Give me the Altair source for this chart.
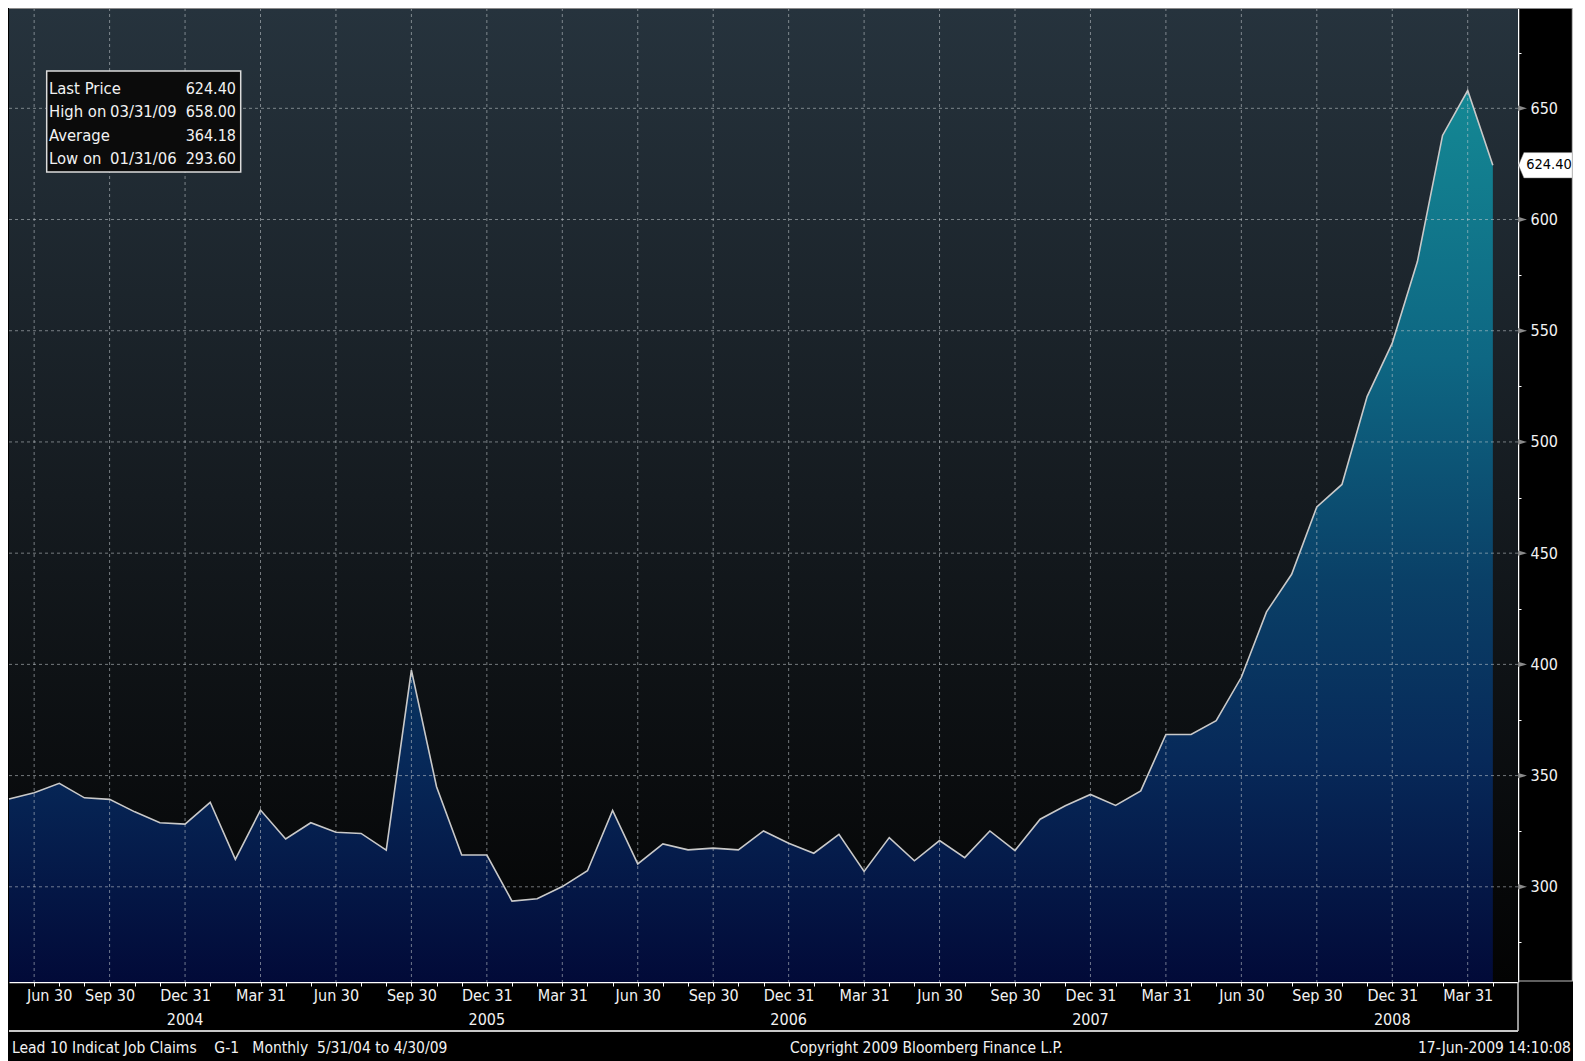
import altair as alt
import pandas as pd

# ---------------- data ----------------
months = [d.strftime("%Y-%m-%d") for d in pd.date_range("2004-05-31", periods=60, freq="ME")]
values = [
    339.5, 342.3, 346.5, 340.0, 339.3, 333.7, 328.8, 328.2,            # May-Dec 2004
    338.0, 312.3, 334.5, 321.5, 328.8, 324.5, 324.0, 316.5, 397.4, 345.0, 314.3, 314.3,  # 2005
    293.6, 294.6, 300.1, 307.2, 334.3, 310.3, 319.3, 316.6, 317.4, 316.6, 325.1, 319.6,  # 2006
    315.1, 323.6, 306.9, 322.1, 311.7, 320.8, 313.1, 325.1, 316.3, 330.4, 336.4, 341.5,  # 2007
    336.6, 343.1, 368.5, 368.5, 374.7, 394.2, 423.6, 440.5, 470.8, 480.9, 520.4, 544.4,  # 2008
    581.1, 637.8, 658.0, 624.4,                                        # Jan-Apr 2009
]
quarter_names = {3: "Mar 31", 6: "Jun 30", 9: "Sep 30", 12: "Dec 31"}
year_labels = ["2004", "2005", "2006", "2007", "2008"]
y_major = [300, 350, 400, 450, 500, 550, 600, 650]
y_ticks = [275, 300, 325, 350, 375, 400, 425, 450, 475, 500, 525, 550, 575, 600, 625, 650, 675]
legend_labels = ["Last Price", "High on", "Average", "Low on"]
legend_dates = ["", "03/31/09", "", "01/31/06"]
legend_values = ["624.40", "658.00", "364.18", "293.60"]
footer_left = "Lead 10 Indicat Job Claims\u00a0\u00a0\u00a0\u00a0G-1\u00a0\u00a0\u00a0Monthly\u00a0\u00a05/31/04 to 4/30/09"
footer_center = "Copyright 2009 Bloomberg Finance L.P."
footer_right = "17-Jun-2009 14:10:08"

# ---------------- tables ----------------
dts = pd.to_datetime(months)
df = pd.DataFrame({"idx": range(len(values)), "date": months, "value": values})
qdf = pd.DataFrame({"idx": [i for i, d in enumerate(dts) if d.month in quarter_names],
                    "label": [quarter_names[d.month] for d in dts if d.month in quarter_names]})
ydf = pd.DataFrame({"idx": [i for i, d in enumerate(dts) if d.month == 12 and str(d.year) in year_labels],
                    "label": [str(d.year) for d in dts if d.month == 12 and str(d.year) in year_labels]})
gdf = pd.DataFrame({"v": y_major})
last_df = pd.DataFrame({"v": [values[-1]], "t": [f"{values[-1]:.2f}"]})
one = pd.DataFrame({"a": [0]})

label_per_idx = ["" for _ in range(61)]
for i, lab in zip(qdf["idx"], qdf["label"]):
    label_per_idx[i] = lab
label_expr = "[" + ",".join("'%s'" % t for t in label_per_idx) + "][datum.value] || ''"
first_q = int(qdf["idx"].iloc[0])

# ---------------- style ----------------
W, H = 1509, 974
FONT = "DejaVu Sans Condensed, Liberation Sans Narrow, Liberation Sans, sans-serif"
TXT = "#f2f2f2"
GRID = "#c8cdd2"

xs = alt.Scale(domain=[0, 60], nice=False, zero=False)
ys = alt.Scale(domain=[257.2, 695.1], nice=False, zero=False)

xaxis = alt.Axis(values=list(range(1, 60)), labelExpr=label_expr, grid=False, title=None,
                 domainColor="#ffffff", domainWidth=1.5, tickColor="#ffffff", tickSize=4,
                 labelColor=TXT, labelFont=FONT, labelFontSize=16, labelPadding=1,
                 labelOffset={"condition": {"test": f"datum.value == {first_q}", "value": 15}, "value": 0},
                 labelOverlap=False, labelFlush=False, labelBound=False)
yaxis = alt.Axis(orient="right", values=y_ticks, grid=False, title=None,
                 labelExpr="datum.value % 50 == 0 ? datum.label : ''",
                 domainColor="#ffffff", domainWidth=1.5, tickColor="#ffffff", tickSize=3,
                 labelColor=TXT, labelFont=FONT, labelFontSize=16, labelPadding=9,
                 labelOverlap=False, labelFlush=False, labelBound=False)


def X(field):
    return alt.X(field, scale=xs, axis=xaxis)


def Y(field):
    return alt.Y(field, scale=ys, axis=yaxis)


bg_grad = alt.LinearGradient(
    gradient="linear", x1=0, x2=0, y1=0, y2=1,
    stops=[alt.GradientStop(color="#26333d", offset=0),
           alt.GradientStop(color="#151b20", offset=0.5),
           alt.GradientStop(color="#030303", offset=1)])
area_grad = alt.LinearGradient(
    gradient="linear", x1=0, x2=0, y1=0, y2=1,
    stops=[alt.GradientStop(color="#148894", offset=0),
           alt.GradientStop(color="#0e6783", offset=0.3),
           alt.GradientStop(color="#0a4067", offset=0.55),
           alt.GradientStop(color="#072959", offset=0.75),
           alt.GradientStop(color="#020a38", offset=1)])

bg = alt.Chart(one).mark_rect(fill=bg_grad).encode(
    x=alt.value(0), x2=alt.value(W), y=alt.value(0), y2=alt.value(H))

area = alt.Chart(df).mark_area(fill=area_grad, stroke=None).encode(
    x=X("idx:Q"), y=Y("value:Q"), y2=alt.datum(257.2))
line = alt.Chart(df).mark_line(color="#c9c9c9", strokeWidth=1.6).encode(
    x=X("idx:Q"), y=Y("value:Q"))

vgrid = alt.Chart(qdf).mark_rule(color=GRID, strokeDash=[3, 3], strokeWidth=1, opacity=0.55).encode(
    x=X("idx:Q"))
hgrid = alt.Chart(gdf).mark_rule(color=GRID, strokeDash=[3, 3], strokeWidth=1, opacity=0.55).encode(
    y=Y("v:Q"))

tri = alt.Chart(gdf).mark_point(shape="M-1,-0.6L1,0L-1,0.6Z", filled=True, fill="#8a8a8a",
                                size=81, opacity=1, strokeWidth=0).encode(
    y=Y("v:Q"), x=alt.value(W + 4.5))

tag = alt.Chart(last_df).mark_point(shape="M-1,0L-0.8,-0.47L1,-0.47L1,0.47L-0.8,0.47Z",
                                    filled=True, fill="#ffffff", size=54 * 54, opacity=1,
                                    stroke="#777777", strokeWidth=0.5).encode(
    y=Y("v:Q"), x=alt.value(W + 27.5))
tag_text = alt.Chart(last_df).mark_text(font=FONT, fontSize=14.5, color="#000000",
                                        align="center", baseline="middle").encode(
    y=Y("v:Q"), x=alt.value(W + 31), text="t:N")

leg_box = alt.Chart(one).mark_rect(fill="#0b0b0b", stroke="#dcdcdc", strokeWidth=1.5).encode(
    x=alt.value(37.7), x2=alt.value(231.7), y=alt.value(63), y2=alt.value(164))
LH = 23.4
legend_layers = []
for r in range(len(legend_labels)):
    yy = 86 + LH * r
    for txt, xx, al, fs in ((legend_labels[r], 40, "left", 16.5),
                            (legend_dates[r], 101, "left", 16.5),
                            (legend_values[r], 227, "right", 16)):
        if txt:
            legend_layers.append(
                alt.Chart(one).mark_text(font=FONT, fontSize=fs, color=TXT, align=al,
                                         baseline="alphabetic").encode(
                    x=alt.value(xx), y=alt.value(yy), text=alt.value(txt)))

years = alt.Chart(ydf).mark_text(font=FONT, fontSize=16, color=TXT, align="center",
                                 baseline="middle").encode(
    x=X("idx:Q"), y=alt.value(H + 38), text="label:N")

FY = 1040
f1 = alt.Chart(one).mark_text(font=FONT, fontSize=15.5, color=TXT, align="left", baseline="middle").encode(
    x=alt.value(3), y=alt.value(FY), text=alt.value(footer_left))
f2 = alt.Chart(one).mark_text(font=FONT, fontSize=15.5, color=TXT, align="center", baseline="middle").encode(
    x=alt.value(917.5), y=alt.value(FY), text=alt.value(footer_center))
f3 = alt.Chart(one).mark_text(font=FONT, fontSize=15.5, color=TXT, align="right", baseline="middle").encode(
    x=alt.value(1562), y=alt.value(FY), text=alt.value(footer_right))

top_border = alt.Chart(one).mark_rule(color="#8a8a8a", strokeWidth=1).encode(
    x=alt.value(0), x2=alt.value(1564), y=alt.value(0.5))
right_border = alt.Chart(one).mark_rule(color="#bdbdbd", strokeWidth=1.2).encode(
    x=alt.value(1563.4), y=alt.value(0), y2=alt.value(973))
right_bottom = alt.Chart(one).mark_rule(color="#bdbdbd", strokeWidth=1.2).encode(
    x=alt.value(W), x2=alt.value(1564), y=alt.value(973))
band_bottom = alt.Chart(one).mark_rule(color="#c8c8c8", strokeWidth=2).encode(
    x=alt.value(0), x2=alt.value(W), y=alt.value(1023))
band_right = alt.Chart(one).mark_rule(color="#c8c8c8", strokeWidth=1.5).encode(
    x=alt.value(W), y=alt.value(H), y2=alt.value(1023))

chart = alt.layer(
    bg, area, line, vgrid, hgrid, leg_box, *legend_layers,
    tri, tag, tag_text, years, f1, f2, f3,
    top_border, right_border, right_bottom, band_bottom, band_right,
).properties(
    width=W, height=H,
    padding={"left": 1, "top": 0, "right": 55, "bottom": 79},
    autosize=alt.AutoSizeParams(type="none"),
    background="#000000",
).configure_view(stroke=None)

chart.save("out.html", embed_options={"renderer": "svg", "actions": False})
